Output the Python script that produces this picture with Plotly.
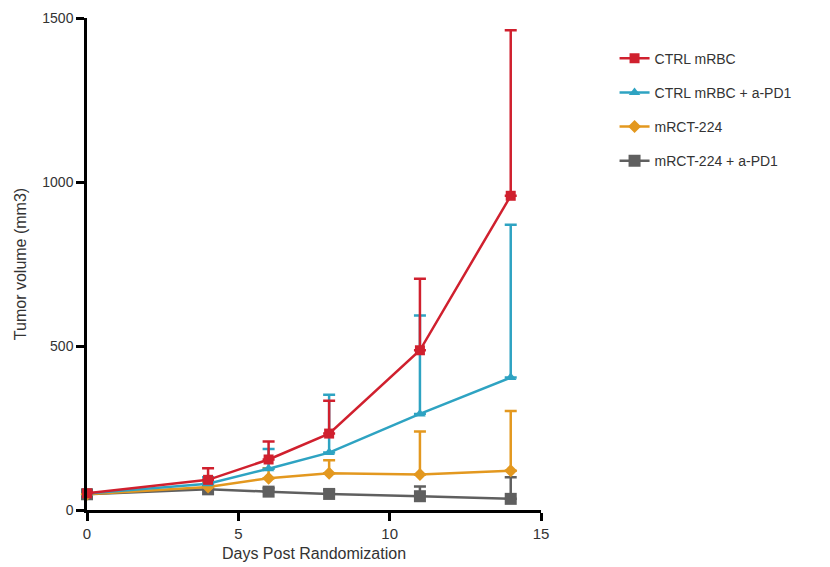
import plotly.graph_objects as go

days = [0, 4, 6, 8, 11, 14]

series_names = ["CTRL mRBC", "CTRL mRBC + a-PD1", "mRCT-224", "mRCT-224 + a-PD1"]
ctrl_mrbc = [51, 92, 154, 233, 487, 958]
ctrl_mrbc_err = [5, 35, 55, 100, 218, 505]
ctrl_pd1 = [50, 80, 126, 175, 293, 404]
ctrl_pd1_err = [5, 20, 60, 176, 300, 466]
mrct = [48, 70, 97, 112, 108, 120]
mrct_err = [4, 15, 30, 40, 131, 182]
mrct_pd1 = [48, 63, 56, 49, 42, 34]
mrct_pd1_err = [4, 8, 10, 12, 30, 66]

values = [ctrl_mrbc, ctrl_pd1, mrct, mrct_pd1]
errors = [ctrl_mrbc_err, ctrl_pd1_err, mrct_err, mrct_pd1_err]
colors = ["#d0202e", "#2ea3c2", "#e3981f", "#5f5f5f"]
symbols = ["square", "triangle-up", "diamond", "square"]
sizes = [10, 10, 10, 12]

fig = go.Figure()
# draw in reverse so red is on top
for i in reversed(range(len(series_names))):
    fig.add_trace(go.Scatter(
        x=days, y=values[i], name=series_names[i], mode="lines+markers",
        line=dict(color=colors[i], width=2.5),
        marker=dict(symbol=symbols[i], size=sizes[i], color=colors[i]),
        error_y=dict(type="data", array=errors[i], arrayminus=[0]*len(days),
                     symmetric=False, color=colors[i], thickness=2.5, width=6),
        cliponaxis=False, legendgroup=str(i), legendrank=i + 1,
    ))

fig.update_layout(
    width=822, height=559,
    margin=dict(l=79, r=289, t=10, b=57),
    plot_bgcolor="white", paper_bgcolor="white",
    font=dict(family="Liberation Sans, Arial, sans-serif", size=13, color="#333333"),
    showlegend=True,
    legend=dict(x=1.162, y=0.95, xanchor="left", yanchor="top",
                traceorder="grouped", tracegroupgap=13,
                font=dict(size=14, color="#333333"), itemwidth=30),
    xaxis=dict(range=[0, 15], tickvals=[0, 5, 10, 15], showline=True,
               linecolor="black", linewidth=2.5, ticks="outside", ticklen=8,
               tickwidth=2.5, tickcolor="black", showgrid=False, zeroline=False,
               automargin=False, tickfont=dict(size=15),
               title=dict(text="Days Post Randomization", standoff=8,
                          font=dict(size=16, color="#333333"))),
    yaxis=dict(range=[0, 1500], tickvals=[0, 500, 1000, 1500], showline=True,
               linecolor="black", linewidth=2.5, ticks="outside", ticklen=8,
               tickwidth=2.5, tickcolor="black", showgrid=False, zeroline=False,
               automargin=False, tickfont=dict(size=14),
               title=dict(text="Tumor volume (mm3)", standoff=12,
                          font=dict(size=16, color="#333333"))),
)

fig.write_html("out.html")
